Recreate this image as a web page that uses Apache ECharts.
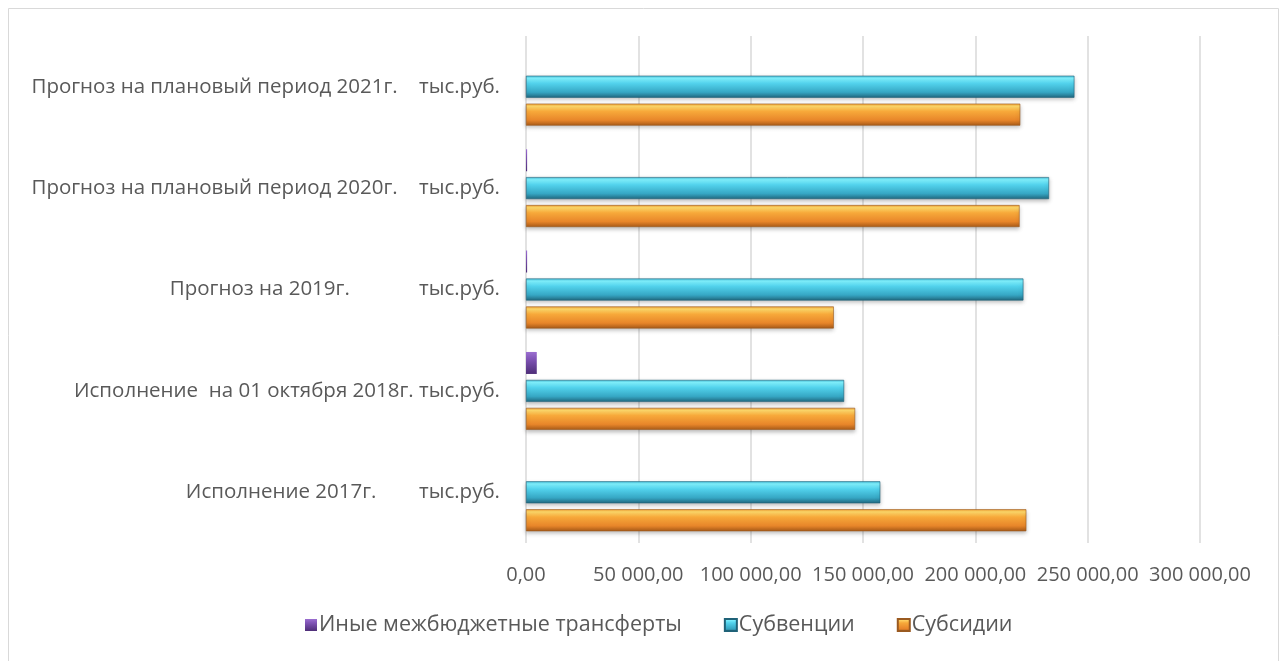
<!DOCTYPE html>
<html><head><meta charset="utf-8">
<script src="https://cdn.jsdelivr.net/npm/echarts@6/dist/echarts.min.js"></script>
<style>html,body{margin:0;padding:0;background:#fff}#c{width:1287px;height:661px}</style>
</head><body><div id="c"></div>
<script>
const categories = [
  'Исполнение 2017г.        тыс.руб.',
  'Исполнение  на 01 октября 2018г. тыс.руб.',
  'Прогноз на 2019г.             тыс.руб.',
  'Прогноз на плановый период 2020г.    тыс.руб.',
  'Прогноз на плановый период 2021г.    тыс.руб.'
];
const subsidii   = [222700, 146500, 137000, 219700, 220000];
const subventsii = [157700, 141600, 221400, 232800, 244100];
const inye       = [0, 4800, 500, 500, 0];
const xTicks = { min: 0, max: 300000, interval: 50000 };

function grad(stops){
  return {type:'linear',x:0,y:0,x2:0,y2:1,colorStops:stops.map(s=>({offset:s[0],color:s[1]}))};
}
const fmt = v => {
  const s = Math.round(v).toString().replace(/\B(?=(\d{3})+(?!\d))/g,' ');
  return s + ',00';
};
const font = '"Open Sans", "Noto Sans", sans-serif';
const chart = echarts.init(document.getElementById('c'));
chart.setOption({
  backgroundColor:'#fff',
  animation:false,
  graphic:[{type:'rect',shape:{x:8.5,y:8.5,width:1270,height:670},style:{fill:'none',stroke:'#d9d9d9',lineWidth:1},silent:true}],
  grid:{left:526,right:87,top:36,bottom:118,containLabel:false},
  legend:{
    bottom:20,left:300,
    data:['Иные межбюджетные трансферты','Субвенции','Субсидии'],
    icon:'rect',itemWidth:12,itemHeight:12,itemGap:42,
    textStyle:{color:'#595959',fontSize:21.5,fontFamily:font,padding:[0,0,0,-3]}
  },
  xAxis:{
    type:'value',min:xTicks.min,max:xTicks.max,interval:xTicks.interval,
    axisLine:{show:false},axisTick:{show:false},
    splitLine:{lineStyle:{color:'#d9d9d9',width:1.5}},
    axisLabel:{formatter:fmt,color:'#595959',fontSize:20,fontFamily:font,margin:22}
  },
  yAxis:{
    type:'category',data:categories,
    axisLine:{show:false},axisTick:{show:false},
    axisLabel:{color:'#595959',fontSize:20.5,fontFamily:font,margin:26}
  },
  series:[
    {name:'Иные межбюджетные трансферты',type:'bar',data:inye,barWidth:22,barGap:'27%',barCategoryGap:'23%',
     itemStyle:{color:grad([[0,'#9b6fd0'],[0.3,'#8256b8'],[1,'#4e2e78']]),borderWidth:0}},
    {name:'Субвенции',type:'bar',data:subventsii,barWidth:22,barGap:'27%',
     itemStyle:{color:grad([[0,'#48c0da'],[0.12,'#80f2ff'],[0.35,'#52d2ec'],[0.75,'#36a7c4'],[1,'#21687f']]),
       borderColor:'#1f6278',borderWidth:0.6,shadowColor:'rgba(0,0,0,0.25)',shadowBlur:4,shadowOffsetY:2}},
    {name:'Субсидии',type:'bar',data:subsidii,barWidth:22,barGap:'27%',
     itemStyle:{color:grad([[0,'#f2a033'],[0.12,'#ffd96a'],[0.35,'#f7a93a'],[0.75,'#e8862a'],[1,'#a85a18']]),
       borderColor:'#9a5a20',borderWidth:0.6,shadowColor:'rgba(0,0,0,0.25)',shadowBlur:4,shadowOffsetY:2}}
  ]
});
</script></body></html>
